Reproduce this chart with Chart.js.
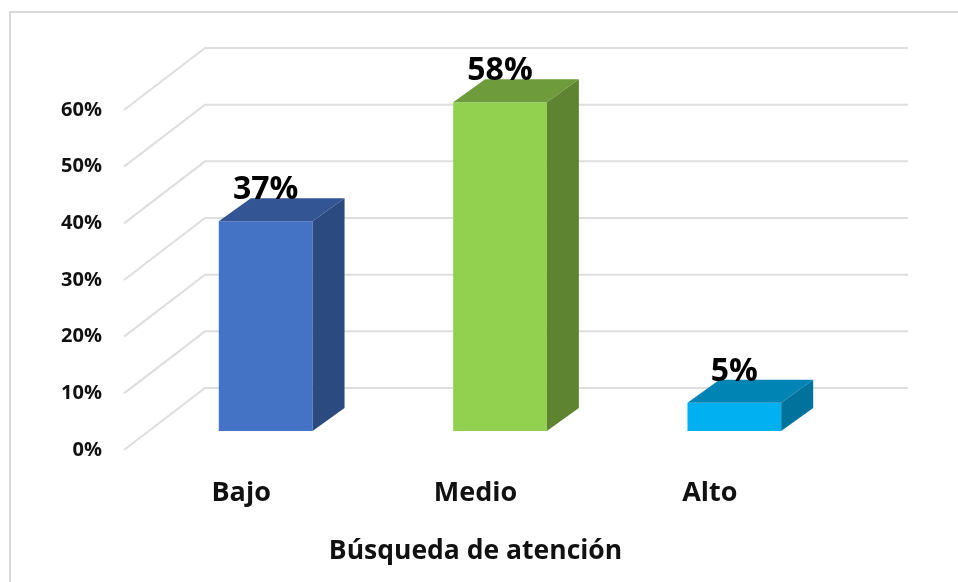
<!DOCTYPE html>
<html><head><meta charset="utf-8">
<style>
html,body{margin:0;padding:0;background:#fff;overflow:hidden}
#frame{position:absolute;left:9px;top:11px;width:960px;height:580px;border-top:2px solid #d9d9d9;border-left:2px solid #d9d9d9}
#wrap{position:absolute;left:0;top:0;width:958px;height:582px}
</style>
<script src="https://cdn.jsdelivr.net/npm/chart.js@4/dist/chart.umd.min.js"></script>
</head><body>
<div id="frame"></div>
<div id="wrap"><canvas id="c" width="958" height="582"></canvas></div>
<script>
const categories = ['Bajo', 'Medio', 'Alto'];
const values = [0.37, 0.58, 0.05];
const valueLabels = ['37%', '58%', '5%'];
const frontColors = ['#4472C4', '#92D050', '#00B0F0'];
const topColors = ['#335593', '#6E9C3C', '#0084B4'];
const sideColors = ['#2B4A80', '#5F8431', '#00729C'];
const axisTitle = 'Búsqueda de atención';
const FONT = '"Open Sans", sans-serif';

const WALL = {dx: 81, dy: 62};
const BAR = {dx: 32, dy: 23, sx: 24.5, sy: 19};

const poly = (ctx, pts, fill) => {
  ctx.beginPath();
  pts.forEach((p, i) => i ? ctx.lineTo(p[0], p[1]) : ctx.moveTo(p[0], p[1]));
  ctx.closePath();
  ctx.fillStyle = fill;
  ctx.fill();
};

const threeD = {
  id: 'threeD',
  beforeDatasetsDraw(chart) {
    const {ctx, scales: {x, y}} = chart;
    ctx.save();
    ctx.strokeStyle = '#dedede';
    ctx.lineWidth = 2;
    y.ticks.forEach(t => {
      const py = y.getPixelForValue(t.value);
      ctx.beginPath();
      ctx.moveTo(x.left, py);
      ctx.lineTo(x.left + WALL.dx, py - WALL.dy);
      ctx.lineTo(x.right + WALL.dx, py - WALL.dy);
      ctx.stroke();
    });
    ctx.restore();
    ctx.save();
    ctx.translate(BAR.sx, -BAR.sy);
  },
  afterDatasetsDraw(chart) {
    const {ctx} = chart;
    ctx.restore();
    const meta = chart.getDatasetMeta(0);
    meta.data.forEach((bar, i) => {
      const half = bar.width / 2;
      const l = bar.x - half + BAR.sx, r = bar.x + half + BAR.sx;
      const t = bar.y - BAR.sy, b = bar.base - BAR.sy;
      poly(ctx, [[l, t], [r, t], [r + BAR.dx, t - BAR.dy], [l + BAR.dx, t - BAR.dy]], topColors[i]);
      poly(ctx, [[r, t], [r + BAR.dx, t - BAR.dy], [r + BAR.dx, b - BAR.dy], [r, b]], sideColors[i]);
      ctx.save();
      ctx.font = '700 32px ' + FONT;
      ctx.fillStyle = '#000';
      ctx.textAlign = 'center';
      ctx.textBaseline = 'alphabetic';
      ctx.fillText(valueLabels[i], bar.x + BAR.sx, t - 22);
      ctx.restore();
    });
  }
};

new Chart(document.getElementById('c'), {
  type: 'bar',
  data: {
    labels: categories,
    datasets: [{
      data: values,
      backgroundColor: frontColors,
      barPercentage: 0.4,
      categoryPercentage: 1
    }]
  },
  options: {
    responsive: false,
    animation: false,
    layout: {padding: {top: 110, right: 131, left: 0, bottom: 0}},
    plugins: {legend: {display: false}, tooltip: {enabled: false}},
    scales: {
      y: {
        min: 0, max: 0.6,
        afterFit(s) { s.width = 124; },
        border: {display: false},
        grid: {display: false},
        ticks: {
          stepSize: 0.1, padding: 14,
          color: '#111',
          font: {family: FONT, size: 20, weight: '700'},
          callback: v => Math.round(v * 100) + '%'
        }
      },
      x: {
        afterFit(s) { s.height = 132; },
        border: {display: false},
        grid: {display: false},
        ticks: {
          padding: 19, color: '#111', maxRotation: 0,
          font: {family: FONT, size: 27, weight: '700'}
        },
        title: {
          display: true, text: axisTitle, color: '#111',
          font: {family: FONT, size: 26.5, weight: '700'},
          padding: {top: 0, bottom: 15}
        }
      }
    }
  },
  plugins: [threeD]
});
</script>
</body></html>
